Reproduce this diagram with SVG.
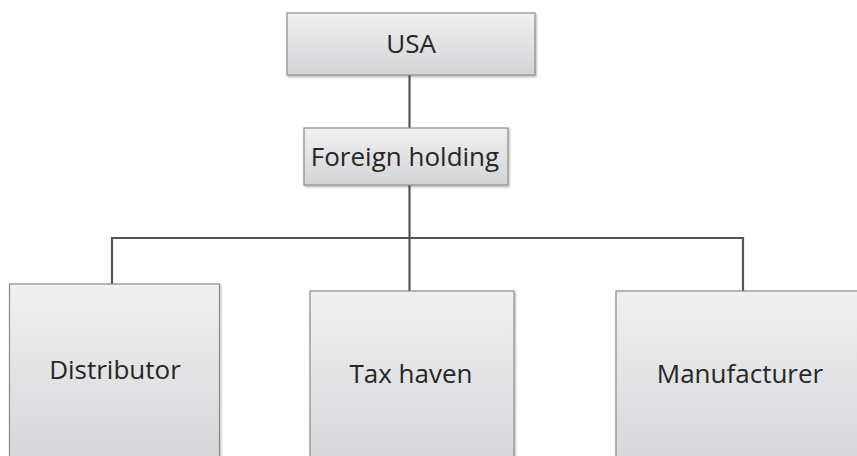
<svg xmlns="http://www.w3.org/2000/svg" width="857" height="456" viewBox="0 0 857 456">
<defs>
<linearGradient id="g" x1="0" y1="0" x2="0" y2="1">
<stop offset="0" stop-color="#f0f0f1"/>
<stop offset="1" stop-color="#d3d4d6"/>
</linearGradient>
<filter id="sh" x="-5%" y="-5%" width="110%" height="115%">
<feDropShadow dx="1" dy="1.5" stdDeviation="1" flood-color="#000" flood-opacity="0.3"/>
</filter>
</defs>
<style>
.box{fill:url(#g);stroke:#8c8c8c;stroke-width:1.2;filter:url(#sh)}
.t{font-family:"Open Sans","Liberation Sans",sans-serif;font-size:26px;fill:#262626;text-anchor:middle}
.c{fill:none;stroke:#555;stroke-width:2.2}
</style>
<rect width="857" height="456" fill="#fff"/>
<g id="connectors">
<line class="c" x1="409.5" y1="75" x2="409.5" y2="128"/>
<line class="c" x1="409.5" y1="185" x2="409.5" y2="291"/>
<polyline class="c" points="112,284 112,238 743,238 743,291"/>
</g>
<g id="usa">
<rect class="box" x="287" y="13" width="248" height="62"/>
<text class="t" x="411" y="53">USA</text>
</g>
<g id="foreign-holding">
<rect class="box" x="304" y="128" width="204" height="57"/>
<text class="t" x="405" y="166">Foreign holding</text>
</g>
<g id="distributor">
<rect class="box" x="9.5" y="284" width="210" height="190"/>
<text class="t" x="115" y="379">Distributor</text>
</g>
<g id="tax-haven">
<rect class="box" x="310" y="291" width="204" height="190"/>
<text class="t" x="411" y="383">Tax haven</text>
</g>
<g id="manufacturer">
<rect class="box" x="616" y="291" width="250" height="190"/>
<text class="t" x="740" y="383">Manufacturer</text>
</g>
</svg>
